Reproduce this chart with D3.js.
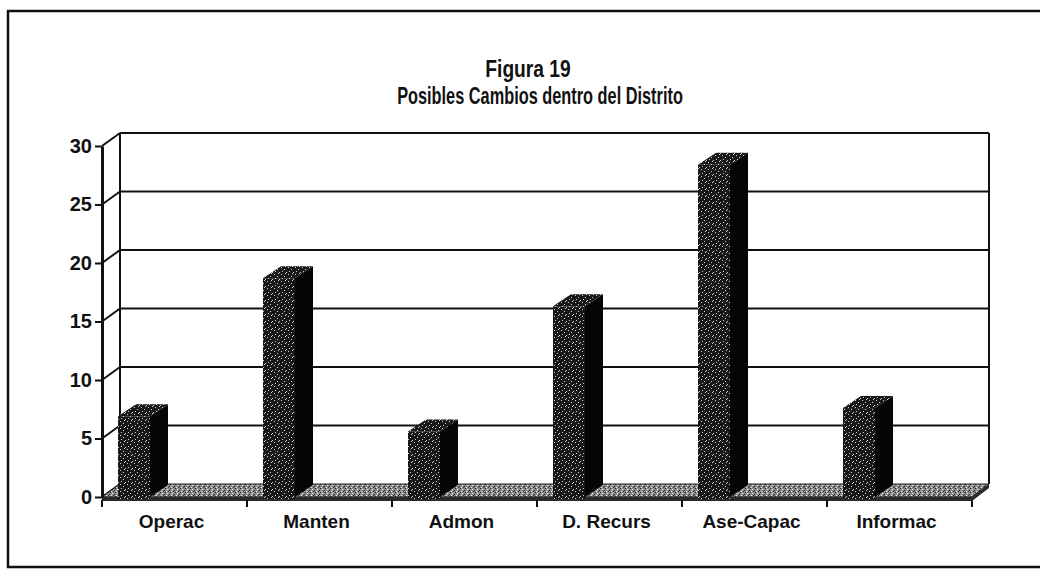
<!DOCTYPE html>
<html>
<head>
<meta charset="utf-8">
<script src="https://cdn.jsdelivr.net/npm/d3@7"></script>
<style>
  html, body { margin: 0; padding: 0; background: #fff; }
  svg { display: block; font-family: "Liberation Sans", Arial, sans-serif; font-weight: bold; }
</style>
</head>
<body>
<svg id="chart" width="1040" height="572"></svg>
<script>
// Figura 19 — 3D column chart, drawn with plain D3 paths.
const titleLines = ['Figura 19', 'Posibles Cambios dentro del Distrito'];
const categories = ['Operac', 'Manten', 'Admon', 'D. Recurs', 'Ase-Capac', 'Informac'];
const values = [6.9, 18.7, 5.6, 16.3, 28.4, 7.6];
const yTicks = [0, 5, 10, 15, 20, 25, 30];

const svg = d3.select('#chart');

// front plane scales; the back wall is the same plane shifted by (DX, DY)
const x = d3.scaleBand().domain(categories).range([102, 972]);
const y = d3.scaleLinear().domain([0, 30]).range([497, 146]);
const DX = 18, DY = -13;        // wall depth
const BDX = 18, BDY = -12;      // column depth
const wallRight = 989;

// textures (scanned stipple look)
const defs = svg.append('defs');
const dark = defs.append('pattern').attr('id', 'stipDark')
  .attr('patternUnits', 'userSpaceOnUse').attr('width', 7).attr('height', 7);
dark.append('rect').attr('width', 7).attr('height', 7).attr('fill', '#181818');
[[1, 1], [4, 3], [2, 5], [6, 6], [5, 0]].forEach(([a, b]) =>
  dark.append('rect').attr('x', a).attr('y', b).attr('width', 1).attr('height', 1).attr('fill', '#d0d0d0'));
const floorPat = defs.append('pattern').attr('id', 'stipFloor')
  .attr('patternUnits', 'userSpaceOnUse').attr('width', 5).attr('height', 4);
floorPat.append('rect').attr('width', 5).attr('height', 4).attr('fill', '#8c8c8c');
[[0, 0, '#222'], [2, 1, '#eee'], [4, 2, '#222'], [1, 3, '#eee'], [3, 3, '#333']].forEach(([a, b, c]) =>
  floorPat.append('rect').attr('x', a).attr('y', b).attr('width', 1).attr('height', 1).attr('fill', c));

// outer frame (right side runs off the page)
svg.append('path')
  .attr('d', 'M1040,11 H8 V567 H1040')
  .attr('fill', 'none').attr('stroke', '#111').attr('stroke-width', 2.5);

// title — condensed bold, squeezed horizontally like the scanned original
const titleSize = [24, 23];
const titleSqueeze = [0.8, 0.71];
const titleX = [528, 540];
svg.append('g').selectAll('g')
  .data(titleLines)
  .join('g')
  .attr('transform', (d, i) => `translate(${titleX[i]},${77 + i * 27}) scale(${titleSqueeze[i]},1)`)
  .append('text')
  .attr('text-anchor', 'middle')
  .attr('font-size', (d, i) => titleSize[i])
  .attr('fill', '#111')
  .text((d) => d);

// back wall gridlines + side wall diagonals
const grid = svg.append('g').attr('stroke', '#111').attr('stroke-width', 2).attr('fill', 'none');
grid.selectAll('line.h')
  .data(yTicks.filter((v) => v > 0))
  .join('line')
  .attr('x1', x.range()[0] + DX).attr('x2', wallRight)
  .attr('y1', (v) => y(v) + DY).attr('y2', (v) => y(v) + DY);
grid.selectAll('line.d')
  .data(yTicks)
  .join('line')
  .attr('x1', x.range()[0]).attr('y1', (v) => y(v))
  .attr('x2', x.range()[0] + DX).attr('y2', (v) => y(v) + DY);
grid.append('line')
  .attr('x1', x.range()[0] + DX).attr('x2', x.range()[0] + DX)
  .attr('y1', y(30) + DY).attr('y2', y(0) + DY);
grid.append('line')
  .attr('x1', wallRight).attr('x2', wallRight)
  .attr('y1', y(30) + DY).attr('y2', y(0) + DY);

// floor slab
const x0 = x.range()[0], x1 = x.range()[1];
svg.append('path')
  .attr('d', `M${x0},${y(0)} L${x0 + DX},${y(0) + DY} L${wallRight},${y(0) + DY} L${x1},${y(0)} Z`)
  .attr('fill', 'url(#stipFloor)').attr('stroke', '#222').attr('stroke-width', 1);
svg.append('path')
  .attr('d', `M${x0},${y(0)} L${x1},${y(0)} L${wallRight},${y(0) + DY} L${wallRight},${y(0) + DY + 4} L${x1},${y(0) + 4} L${x0},${y(0) + 4} Z`)
  .attr('fill', '#2a2a2a');

// columns
const cols = svg.append('g').selectAll('g')
  .data(categories.map((c, i) => ({ c, v: values[i] })))
  .join('g');
const fx0 = (d) => x(d.c) + 16;
const fx1 = (d) => x(d.c) + 48;
cols.append('path')   // right side
  .attr('d', (d) => `M${fx1(d)},${y(d.v)} L${fx1(d) + BDX},${y(d.v) + BDY} L${fx1(d) + BDX},${y(0) + BDY} L${fx1(d)},${y(0)} Z`)
  .attr('fill', '#050505');
cols.append('path')   // top
  .attr('d', (d) => `M${fx0(d)},${y(d.v)} L${fx0(d) + BDX},${y(d.v) + BDY} L${fx1(d) + BDX},${y(d.v) + BDY} L${fx1(d)},${y(d.v)} Z`)
  .attr('fill', 'url(#stipDark)');
cols.append('rect')   // front
  .attr('x', fx0).attr('y', (d) => y(d.v))
  .attr('width', (d) => fx1(d) - fx0(d))
  .attr('height', (d) => y(0) - y(d.v) + 2)
  .attr('fill', 'url(#stipDark)');

// value axis
const yAxis = svg.append('g')
  .attr('transform', `translate(${x0},0)`)
  .call(d3.axisLeft(y).tickValues(yTicks).tickSize(7).tickSizeOuter(0).tickPadding(3));
yAxis.select('.domain').attr('stroke', '#111').attr('stroke-width', 3);
yAxis.selectAll('.tick line').attr('stroke', '#111').attr('stroke-width', 2);
yAxis.selectAll('.tick text').attr('font-size', 20).attr('font-family', null).attr('fill', '#111');

// category axis: ticks between categories, labels at centers
const xAxisY = y(0) + 4;
const edges = categories.map((c) => x(c)).concat([x1]);
svg.append('g').selectAll('line')
  .data(edges)
  .join('line')
  .attr('x1', (d) => d).attr('x2', (d) => d)
  .attr('y1', xAxisY - 1).attr('y2', xAxisY + 6)
  .attr('stroke', '#111').attr('stroke-width', 2);
svg.append('g').selectAll('text')
  .data(categories)
  .join('text')
  .attr('x', (d) => x(d) + x.bandwidth() / 2 - 3)
  .attr('y', 528)
  .attr('text-anchor', 'middle')
  .attr('font-size', 19)
  .attr('fill', '#111')
  .text((d) => d);
</script>
</body>
</html>
